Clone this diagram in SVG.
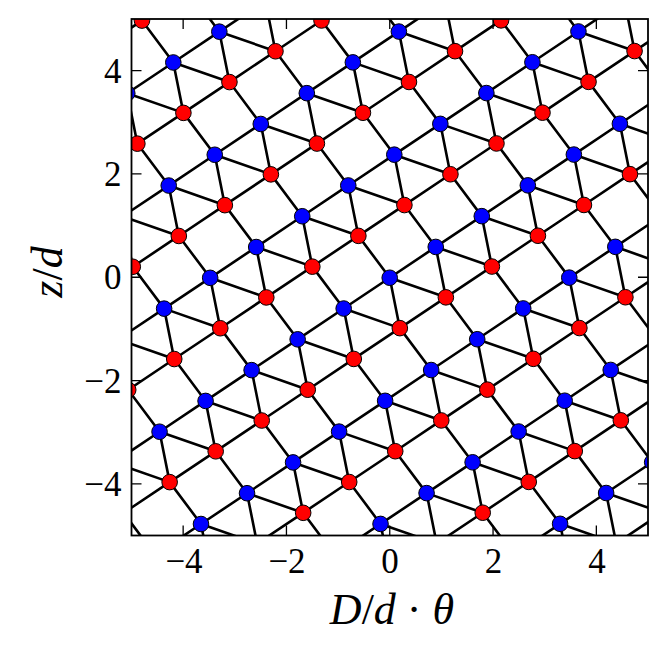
<svg xmlns="http://www.w3.org/2000/svg" width="668" height="655" viewBox="0 0 668 655">
<style>
.e{fill:none;stroke:#000;stroke-width:2.6}
.b{fill:#0000ff;stroke:#000;stroke-width:1}
.r{fill:#ff0000;stroke:#000;stroke-width:1}
.tk{stroke:#000;stroke-width:1.3;fill:none}
.tl{font-family:"Liberation Serif","Times New Roman",serif;font-size:35px;fill:#000}
.al{font-family:"Liberation Serif","Times New Roman",serif;font-size:44px;fill:#000}
.it{font-style:italic}
</style>
<defs>
<clipPath id="clip"><rect x="131.5" y="19" width="516.5" height="516.5"/></clipPath>
<path id="ce" class="e" d="M0,0 L-46.03,30.8 M10.1,50.4 L-35.93,81.2 M0,0 L10.1,50.4 M0,0 L56.13,19.6 M0,0 L-31.35,-41.89"/>
<g id="cn"><circle class="b" cx="0" cy="0" r="7.8"/><circle class="r" cx="10.1" cy="50.4" r="7.8"/></g>
<g id="rowE"><use href="#ce"/><use href="#ce" x="179.55" y="-0.1"/><use href="#ce" x="359.1" y="-0.2"/><use href="#ce" x="538.65" y="-0.3"/><use href="#ce" x="718.2" y="-0.4"/></g>
<g id="rowN"><use href="#cn"/><use href="#cn" x="179.55" y="-0.1"/><use href="#cn" x="359.1" y="-0.2"/><use href="#cn" x="538.65" y="-0.3"/><use href="#cn" x="718.2" y="-0.4"/></g>
</defs>
<rect x="0" y="0" width="668" height="655" fill="#fff"/>
<g clip-path="url(#clip)">
<g id="connectors">
<use href="#rowE" x="177.88" y="-60.62"/>
<use href="#rowE" x="131.85" y="-29.82"/>
<use href="#rowE" x="85.81" y="0.97"/>
<use href="#rowE" x="219.33" y="31.67"/>
<use href="#rowE" x="173.30" y="62.47"/>
<use href="#rowE" x="127.26" y="93.26"/>
<use href="#rowE" x="81.23" y="124.06"/>
<use href="#rowE" x="214.75" y="154.76"/>
<use href="#rowE" x="168.72" y="185.55"/>
<use href="#rowE" x="122.68" y="216.35"/>
<use href="#rowE" x="76.65" y="247.14"/>
<use href="#rowE" x="210.17" y="277.84"/>
<use href="#rowE" x="164.13" y="308.63"/>
<use href="#rowE" x="118.10" y="339.43"/>
<use href="#rowE" x="72.07" y="370.23"/>
<use href="#rowE" x="205.58" y="400.92"/>
<use href="#rowE" x="159.55" y="431.72"/>
<use href="#rowE" x="113.52" y="462.51"/>
<use href="#rowE" x="67.48" y="493.31"/>
<use href="#rowE" x="200.99" y="524.01"/>
<use href="#rowE" x="154.97" y="554.80"/>
</g>
<g id="nodes">
<use id="row-3" href="#rowN" x="177.88" y="-60.62"/>
<use id="row-2" href="#rowN" x="131.85" y="-29.82"/>
<use id="row-1" href="#rowN" x="85.81" y="0.97"/>
<use id="row0" href="#rowN" x="219.33" y="31.67"/>
<use id="row1" href="#rowN" x="173.30" y="62.47"/>
<use id="row2" href="#rowN" x="127.26" y="93.26"/>
<use id="row3" href="#rowN" x="81.23" y="124.06"/>
<use id="row4" href="#rowN" x="214.75" y="154.76"/>
<use id="row5" href="#rowN" x="168.72" y="185.55"/>
<use id="row6" href="#rowN" x="122.68" y="216.35"/>
<use id="row7" href="#rowN" x="76.65" y="247.14"/>
<use id="row8" href="#rowN" x="210.17" y="277.84"/>
<use id="row9" href="#rowN" x="164.13" y="308.63"/>
<use id="row10" href="#rowN" x="118.10" y="339.43"/>
<use id="row11" href="#rowN" x="72.07" y="370.23"/>
<use id="row12" href="#rowN" x="205.58" y="400.92"/>
<use id="row13" href="#rowN" x="159.55" y="431.72"/>
<use id="row14" href="#rowN" x="113.52" y="462.51"/>
<use id="row15" href="#rowN" x="67.48" y="493.31"/>
<use id="row16" href="#rowN" x="200.99" y="524.01"/>
<use id="row17" href="#rowN" x="154.97" y="554.80"/>
</g>
</g>
<g id="axes">
<rect x="131.5" y="19" width="516.5" height="516.5" fill="none" stroke="#000" stroke-width="1.8"/>
<path class="tk" d="M183.15,535.5v-10M286.45,535.5v-10M389.75,535.5v-10M493.05,535.5v-10M596.35,535.5v-10M183.15,19v10M286.45,19v10M389.75,19v10M493.05,19v10M596.35,19v10M131.5,70.65h10M131.5,173.95h10M131.5,277.25h10M131.5,380.55h10M131.5,483.85h10M648,70.65h-10M648,173.95h-10M648,277.25h-10M648,380.55h-10M648,483.85h-10"/>
<g class="tl" text-anchor="middle">
<text x="184" y="572.5">−4</text>
<text x="287" y="572.5">−2</text>
<text x="390" y="572.5">0</text>
<text x="493.5" y="572.5">2</text>
<text x="597" y="572.5">4</text>
</g>
<g class="tl" text-anchor="end">
<text x="121.5" y="82.6">4</text>
<text x="121.5" y="186">2</text>
<text x="121.5" y="289.3">0</text>
<text x="121.5" y="392.6">−2</text>
<text x="121.5" y="495.9">−4</text>
</g>
<text class="al" x="392" y="624" text-anchor="middle"><tspan class="it">D</tspan>/<tspan class="it">d</tspan> · <tspan class="it">θ</tspan></text>
<text class="al" transform="translate(62,272) rotate(-90)" text-anchor="middle"><tspan class="it">z</tspan>/<tspan class="it">d</tspan></text>
</g>
</svg>
